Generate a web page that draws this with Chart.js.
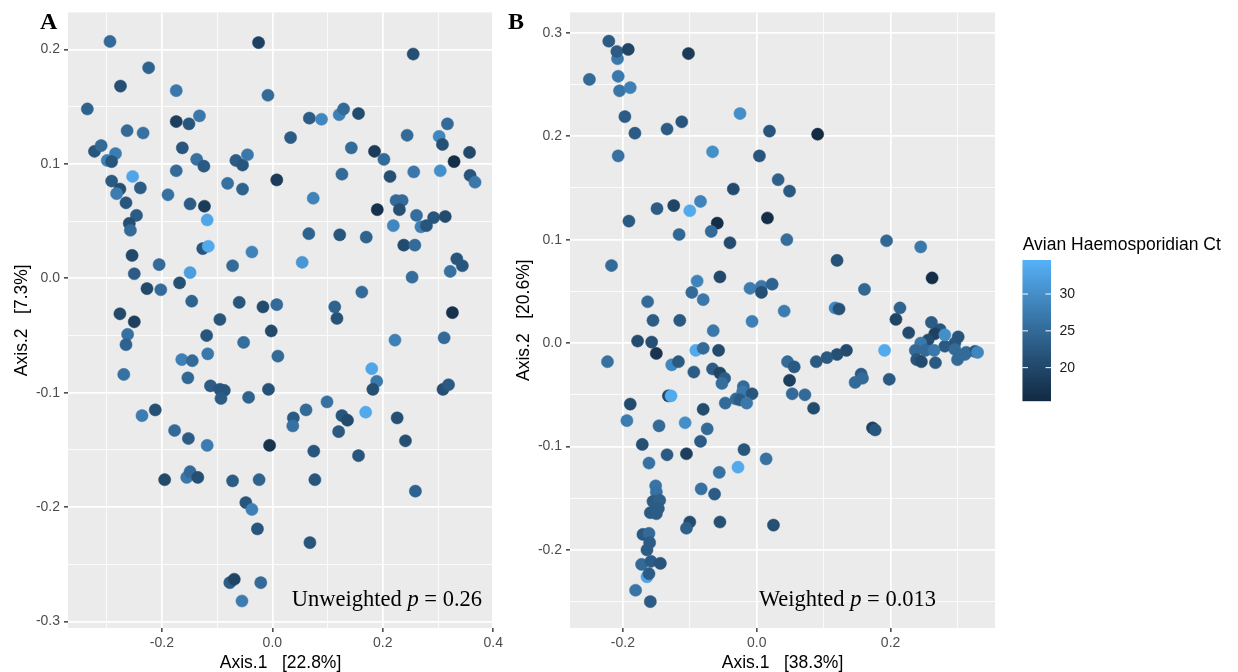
<!DOCTYPE html>
<html><head><meta charset="utf-8">
<script src="https://cdn.jsdelivr.net/npm/chart.js@4.4.1/dist/chart.umd.min.js"></script>
<style>
html,body{margin:0;padding:0;background:#fff;width:1238px;height:672px;overflow:hidden}
#ca{position:absolute;left:0;top:0;width:520px;height:672px}
#cb{position:absolute;left:500px;top:0;width:738px;height:672px}
</style>
</head><body>
<canvas id="ca" width="520" height="672"></canvas>
<canvas id="cb" width="738" height="672"></canvas>
<script>
// ---------- DATA: Panel A (Unweighted UniFrac PCoA) ----------
const unweightedX = [
-0.294,-0.025,-0.224,-0.275,-0.174,-0.008,-0.335,-0.174,-0.151,-0.132,
-0.263,-0.234,-0.163,-0.322,-0.310,-0.284,-0.299,-0.291,-0.253,-0.291,
-0.276,-0.282,-0.239,-0.174,-0.137,-0.124,-0.265,-0.246,-0.259,-0.257,
-0.189,-0.149,-0.123,-0.118,-0.126,-0.116,-0.254,-0.205,-0.250,-0.149,
-0.227,-0.202,-0.168,-0.146,-0.081,-0.054,-0.066,-0.054,-0.045,0.008,
-0.037,-0.072,-0.060,-0.017,0.008,-0.276,-0.250,-0.095,
0.255,0.067,0.089,0.121,0.129,0.156,0.033,0.244,0.317,0.302,
0.308,0.143,0.185,0.202,0.357,0.329,0.126,0.213,0.256,0.304,
0.358,0.367,0.074,0.190,0.224,0.235,0.230,0.261,0.292,0.313,
0.219,0.269,0.279,0.066,0.122,0.170,0.238,0.258,0.054,0.334,
0.344,0.322,0.253,0.162,0.113,0.117,0.326,
-0.262,-0.265,-0.269,-0.119,-0.052,-0.002,-0.117,-0.164,-0.145,-0.153,
0.010,-0.112,-0.095,-0.087,-0.093,-0.043,-0.007,-0.212,-0.236,-0.177,
-0.152,-0.118,-0.005,-0.195,-0.155,-0.149,-0.135,-0.072,-0.024,-0.048,
-0.037,-0.027,-0.077,-0.069,-0.021,-0.055,
0.222,0.311,0.180,0.189,0.182,0.309,0.319,0.099,0.061,0.038,
0.037,0.126,0.136,0.169,0.226,0.120,0.241,0.075,0.156,0.077,
0.259,0.068];
const unweightedY = [
0.207,0.206,0.184,0.168,0.164,0.160,0.148,0.137,0.135,0.142,
0.129,0.127,0.114,0.111,0.116,0.109,0.103,0.102,0.089,0.085,
0.078,0.074,0.079,0.094,0.104,0.098,0.066,0.055,0.048,0.042,
0.073,0.065,0.063,0.051,0.026,0.028,0.020,0.012,0.004,0.005,
-0.009,-0.010,-0.004,-0.020,0.083,0.078,0.103,0.099,0.108,0.086,
0.023,0.011,-0.021,-0.025,-0.023,-0.031,-0.038,-0.036,
0.196,0.140,0.139,0.143,0.148,0.144,0.123,0.125,0.135,0.124,
0.117,0.114,0.111,0.104,0.110,0.102,0.091,0.089,0.093,0.094,
0.090,0.084,0.070,0.060,0.068,0.068,0.060,0.055,0.053,0.054,
0.046,0.045,0.046,0.039,0.038,0.036,0.029,0.029,0.014,0.017,
0.011,0.006,0.001,-0.012,-0.025,-0.035,-0.030,
-0.049,-0.058,-0.084,-0.050,-0.056,-0.046,-0.066,-0.071,-0.072,-0.087,
-0.068,-0.094,-0.097,-0.098,-0.105,-0.104,-0.097,-0.115,-0.120,-0.133,
-0.140,-0.146,-0.146,-0.176,-0.174,-0.169,-0.174,-0.177,-0.176,-0.196,
-0.202,-0.219,-0.266,-0.263,-0.266,-0.282,
-0.054,-0.052,-0.079,-0.090,-0.097,-0.097,-0.093,-0.108,-0.115,-0.122,
-0.129,-0.120,-0.124,-0.117,-0.122,-0.134,-0.142,-0.151,-0.155,-0.176,
-0.186,-0.231];
const unweightedCt = [
25,19,24,21,27,25,24,18.5,22,27,
25,26,22,22,25,27.5,28,22,33,22.5,
21,27.5,23,25,26,22.5,22,23,21,25,
26,23,18,33,22,33.5,20,25,23,32,
20,25,21,24,26,24,23,22,27,18,
28.5,25,22,20.5,25,20,18.5,22,
21,23,29,28,25,20.5,23,25,25,29,
21,25,18,25,20,16,25,21,27,30,
22,27,28.5,16.5,25,25,21,25.5,22,20.5,
29,28,22,24,22,24,20.5,25,31,22,
22,26,25.5,25,24,21.5,16.5,
26,24,26,22,25.5,20,27,28,25,24.5,
25,23,22,22,23,24,21.5,21,27.5,25,
23,27.5,17,20,27,25,21,23,24,22,
28,22,23,19.5,25,27.5,
28,25,33,27,21,21,22.5,26,25,22.5,
26,22,20.5,33.5,21,22.5,21,22,22,22,
24,22];

// ---------- DATA: Panel B (Weighted UniFrac PCoA) ----------
const weightedX = [
-0.221,-0.208,-0.209,-0.192,-0.102,-0.250,-0.207,-0.205,-0.189,-0.197,
-0.182,-0.134,-0.112,-0.025,0.019,-0.207,-0.066,0.004,0.032,0.049,
-0.035,-0.149,-0.124,-0.100,-0.084,-0.059,-0.068,0.016,-0.191,-0.116,
-0.040,0.045,-0.217,-0.055,-0.089,-0.097,-0.080,-0.010,0.007,0.007,
0.023,0.041,-0.163,-0.155,-0.115,-0.007,
0.091,0.194,0.245,0.120,0.262,0.161,0.117,0.123,0.214,0.208,0.261,
-0.065,-0.178,-0.157,-0.150,-0.091,-0.080,-0.057,-0.223,-0.127,-0.117,
-0.094,-0.066,-0.055,-0.048,-0.052,-0.020,-0.021,-0.007,-0.031,-0.025,
-0.015,-0.047,-0.132,-0.128,-0.189,-0.080,-0.194,-0.146,-0.107,-0.074,
-0.084,-0.171,-0.134,-0.105,-0.019,0.014,-0.028,-0.161,-0.056,-0.083,
-0.063,-0.151,-0.150,-0.155,-0.145,-0.147,-0.159,-0.150,-0.100,-0.105,
-0.055,0.025,-0.170,-0.161,-0.160,-0.164,-0.172,-0.158,-0.144,-0.164,
-0.161,-0.181,-0.159,
0.227,0.274,0.266,0.256,0.245,0.301,0.296,0.281,0.237,0.252,
0.265,0.296,0.313,0.326,0.330,0.239,0.246,0.267,0.300,0.311,
0.281,0.191,0.134,0.120,0.105,0.089,0.046,0.056,0.049,0.053,
0.072,0.085,0.156,0.147,0.158,0.198,0.173,0.177];
const weightedY = [
0.292,0.275,0.282,0.284,0.280,0.255,0.258,0.244,0.247,0.219,
0.203,0.207,0.214,0.222,0.205,0.181,0.185,0.181,0.158,0.147,
0.149,0.130,0.133,0.128,0.137,0.116,0.108,0.121,0.118,0.105,
0.097,0.100,0.075,0.064,0.060,0.049,0.042,0.053,0.055,0.049,
0.057,0.031,0.040,0.022,0.022,0.021,
0.202,0.099,0.093,0.080,0.063,0.052,0.034,0.033,0.034,0.023,0.020,
0.012,0.002,0.001,-0.010,-0.007,-0.005,-0.007,-0.018,-0.021,-0.018,
-0.028,-0.025,-0.029,-0.034,-0.039,-0.042,-0.047,-0.049,-0.054,-0.055,
-0.058,-0.058,-0.051,-0.051,-0.059,-0.064,-0.075,-0.080,-0.077,-0.083,
-0.095,-0.098,-0.108,-0.107,-0.103,-0.112,-0.120,-0.116,-0.125,-0.141,
-0.146,-0.138,-0.144,-0.153,-0.152,-0.160,-0.164,-0.165,-0.173,-0.179,
-0.173,-0.176,-0.185,-0.184,-0.193,-0.200,-0.214,-0.211,-0.213,-0.226,
-0.223,-0.239,-0.250,
0.010,0.013,0.009,0.003,0.000,0.006,0.000,-0.003,-0.007,-0.007,
-0.007,-0.006,-0.009,-0.008,-0.009,-0.016,-0.018,-0.019,-0.016,-0.011,
0.008,-0.007,-0.007,-0.011,-0.014,-0.018,-0.018,-0.023,-0.036,-0.049,
-0.050,-0.063,-0.030,-0.038,-0.034,-0.035,-0.082,-0.084];
const weightedCt = [
23,27,23,19.5,18,25,27,26.5,28,23,
23,23,22,30,22,26,30,22,23.5,22.5,
20.5,23,19.5,33.5,28.5,16,25,16,22.5,24.5,
20.5,25.5,25,20,28.5,25,27,27.5,27,21,
24,27.5,25,23,22.5,28,
15.5,24.5,27,21.5,16,24.5,29,21.5,24,19.5,23,
27,20.5,21,17,33.5,25,20.5,26,29,22.5,
23,23,19.5,23,25.5,25,27,22,25,23,
27,25,19.5,33.5,20.5,20.5,27.5,25,30,25,
23,21,22.5,18.5,22,26,33.5,26,26,26,
23,26.5,26,23,23.5,23,22.5,23,20.5,23.5,
21,21,22.5,25,23,23,25,23,22,33,
23,26.5,23,
20.5,22,19,20.5,27,22,22,22.5,25,25,
27,25,25,22.5,29,22,20.5,22.5,25,25,
30,33.5,20.5,21,22.5,22.5,25,22.5,18.5,25,
25,20.5,23,25,25,22.5,19,22];

// ---------- Axis ticks / labels ----------
const aXMajor = [-0.2, 0.0, 0.2, 0.4];           const aXLabels = ['-0.2','0.0','0.2','0.4'];
const aXMinor = [-0.3, -0.1, 0.1, 0.3];
const aYMajor = [-0.3,-0.2,-0.1,0.0,0.1,0.2];     const aYLabels = ['-0.3','-0.2','-0.1','0.0','0.1','0.2'];
const aYMinor = [-0.25,-0.15,-0.05,0.05,0.15];
const bXMajor = [-0.2, 0.0, 0.2];                 const bXLabels = ['-0.2','0.0','0.2'];
const bXMinor = [-0.1, 0.1, 0.3];
const bYMajor = [-0.2,-0.1,0.0,0.1,0.2,0.3];      const bYLabels = ['-0.2','-0.1','0.0','0.1','0.2','0.3'];
const bYMinor = [-0.25,-0.15,-0.05,0.05,0.15,0.25];
const aXLim = [-0.370, 0.3995], aYLim = [-0.3056, 0.2324];
const bXLim = [-0.279, 0.356],  bYLim = [-0.2755, 0.3198];
const ctLimits = [15.47, 34.53];
const ctTicks = [20, 25, 30];
const ctLabels = ['20', '25', '30'];

// ---------- colour scale (ggplot default: #132B43 -> #56B1F7 in Lab) ----------
function hex2rgb(h){return [1,3,5].map(i=>parseInt(h.slice(i,i+2),16));}
function lin(c){c/=255;return c<=0.04045?c/12.92:Math.pow((c+0.055)/1.055,2.4);}
function unlin(c){return c<=0.0031308?12.92*c:1.055*Math.pow(c,1/2.4)-0.055;}
function rgb2lab(rgb){const [r,g,b]=rgb.map(lin);
  const X=(0.4124*r+0.3576*g+0.1805*b)/0.95047, Y=(0.2126*r+0.7152*g+0.0722*b), Z=(0.0193*r+0.1192*g+0.9505*b)/1.08883;
  const f=t=>t>0.008856?Math.cbrt(t):7.787*t+16/116;
  const fx=f(X),fy=f(Y),fz=f(Z); return [116*fy-16,500*(fx-fy),200*(fy-fz)];}
function lab2rgb(l){const fy=(l[0]+16)/116, fx=fy+l[1]/500, fz=fy-l[2]/200;
  const fi=t=>t*t*t>0.008856?t*t*t:(t-16/116)/7.787;
  const X=fi(fx)*0.95047,Y=fi(fy),Z=fi(fz)*1.08883;
  const r=3.2406*X-1.5372*Y-0.4986*Z, g=-0.9689*X+1.8758*Y+0.0415*Z, b=0.0557*X-0.2040*Y+1.0570*Z;
  return [r,g,b].map(c=>Math.round(Math.max(0,Math.min(1,unlin(c)))*255));}
const LOW = rgb2lab(hex2rgb('#132B43')), HIGH = rgb2lab(hex2rgb('#56B1F7'));
function ctColor(v){
  let t=(v-ctLimits[0])/(ctLimits[1]-ctLimits[0]); t=Math.max(0,Math.min(1,t));
  const c=lab2rgb([0,1,2].map(i=>LOW[i]+(HIGH[i]-LOW[i])*t));
  return 'rgb('+c.join(',')+')';
}

Chart.defaults.font.family = '"Liberation Sans", Arial, sans-serif';
const near=(a,b)=>Math.abs(a-b)<1e-6;

function axis(lim, major, minor, labels, title, isX, size, titlePad){
  const isMajor=v=>major.some(m=>near(m,v));
  return {
    type:'linear', min:lim[0], max:lim[1],
    afterBuildTicks: s => { s.ticks = major.concat(minor).sort((a,b)=>a-b).map(v=>({value:v})); },
    afterFit: s => { if(isX) s.height=size; else s.width=size; },
    border:{display:false},
    grid:{
      color:'#FFFFFF',
      lineWidth: c => (c.tick && isMajor(c.tick.value)) ? 1.7 : 0.8,
      tickColor: c => (c.tick && isMajor(c.tick.value)) ? '#333333' : 'rgba(0,0,0,0)',
      tickWidth: 1.4, tickLength:4, drawTicks:true
    },
    ticks:{
      autoSkip:false, maxRotation:0, minRotation:0, padding: isX?3:4,
      color:'#4D4D4D', font:{size:14},
      callback: v => { const i=major.findIndex(m=>near(m,v)); return i>=0?labels[i]:''; }
    },
    title:{display:true, text:title, color:'#000', font:{size:17.5, lineHeight:1}, padding: titlePad}
  };
}

function richText(ctx, parts, rightX, baseline, size){
  let w=0;
  parts.forEach(p=>{ctx.font=(p[1]?'italic ':'')+size+'px "Liberation Serif", "Times New Roman", serif'; p.w=ctx.measureText(p[0]).width; w+=p.w;});
  let x=rightX-w;
  ctx.fillStyle='#000'; ctx.textBaseline='alphabetic'; ctx.textAlign='left';
  parts.forEach(p=>{ctx.font=(p[1]?'italic ':'')+size+'px "Liberation Serif", "Times New Roman", serif'; ctx.fillText(p[0],x,baseline); x+=p.w;});
}

const panelBg = { id:'panelBg', beforeDraw(chart){ const {ctx,chartArea:a}=chart; ctx.save(); ctx.fillStyle='#EBEBEB'; ctx.fillRect(a.left,a.top,a.right-a.left,a.bottom-a.top); ctx.restore(); } };

function makeOverlay(letter, letterX, parts, rightX, drawLegend){
  return { id:'overlay', afterDraw(chart){
    const ctx=chart.ctx; ctx.save();
    ctx.fillStyle='#000'; ctx.font='bold 24px "Liberation Serif", "Times New Roman", serif';
    ctx.textAlign='left'; ctx.textBaseline='alphabetic'; ctx.fillText(letter, letterX, 29);
    richText(ctx, parts, rightX, 606, 22.5);
    if(drawLegend){
      const x0=522.5, x1=551, top=260.7, bot=401, h=bot-top;
      ctx.font='17.5px "Liberation Sans", Arial, sans-serif'; ctx.fillStyle='#000'; ctx.textAlign='left';
      ctx.fillText('Avian Haemosporidian Ct', 522.7, 250);
      for(let i=0;i<Math.ceil(h);i++){
        const v=ctLimits[0]+(ctLimits[1]-ctLimits[0])*(i+0.5)/h;
        ctx.fillStyle=ctColor(v); ctx.fillRect(x0, bot-i-1, x1-x0, 1.2);
      }
      ctx.strokeStyle='#FFFFFF'; ctx.lineWidth=1;
      ctx.font='14px "Liberation Sans", Arial, sans-serif'; ctx.textBaseline='middle';
      ctTicks.forEach((t,i)=>{
        const y=bot-(t-ctLimits[0])/(ctLimits[1]-ctLimits[0])*h;
        ctx.beginPath(); ctx.moveTo(x0,y); ctx.lineTo(x0+5.5,y); ctx.moveTo(x1-5.5,y); ctx.lineTo(x1,y); ctx.stroke();
        ctx.fillStyle='#1A1A1A'; ctx.fillText(ctLabels[i], 559.5, y+0.5);
      });
    }
    ctx.restore();
  }};
}

function makeChart(id, xs, ys, cts, xAxis, yAxis, padding, overlay){
  return new Chart(document.getElementById(id), {
    type:'scatter',
    data:{datasets:[{
      data: xs.map((x,i)=>({x:x, y:ys[i]})),
      pointBackgroundColor: cts.map(ctColor),
      pointBorderColor: cts.map(ctColor),
      pointBorderWidth:0.5, pointRadius:6.1, pointHoverRadius:6.1
    }]},
    options:{
      responsive:false, animation:false, devicePixelRatio:1,
      layout:{padding:padding},
      plugins:{legend:{display:false}, tooltip:{enabled:false}},
      events:[],
      scales:{x:xAxis, y:yAxis}
    },
    plugins:[panelBg, overlay]
  });
}

makeChart('ca', unweightedX, unweightedY, unweightedCt,
  axis(aXLim, aXMajor, aXMinor, aXLabels, 'Axis.1   [22.8%]', true, 44, {top:0,bottom:0}),
  axis(aYLim, aYMajor, aYMinor, aYLabels, 'Axis.2   [7.3%]', false, 68, {top:13,bottom:0}),
  {left:0, top:6, right:27, bottom:0},
  makeOverlay('A', 40, [['Unweighted ',false],['p',true],[' = 0.26',false]], 482, false));

makeChart('cb', weightedX, weightedY, weightedCt,
  axis(bXLim, bXMajor, bXMinor, bXLabels, 'Axis.1   [38.3%]', true, 44, {top:0,bottom:0}),
  axis(bYLim, bYMajor, bYMinor, bYLabels, 'Axis.2   [20.6%]', false, 70, {top:15,bottom:0}),
  {left:0, top:6, right:243, bottom:0},
  makeOverlay('B', 8, [['Weighted ',false],['p',true],[' = 0.013',false]], 436, true));
</script>
</body></html>
